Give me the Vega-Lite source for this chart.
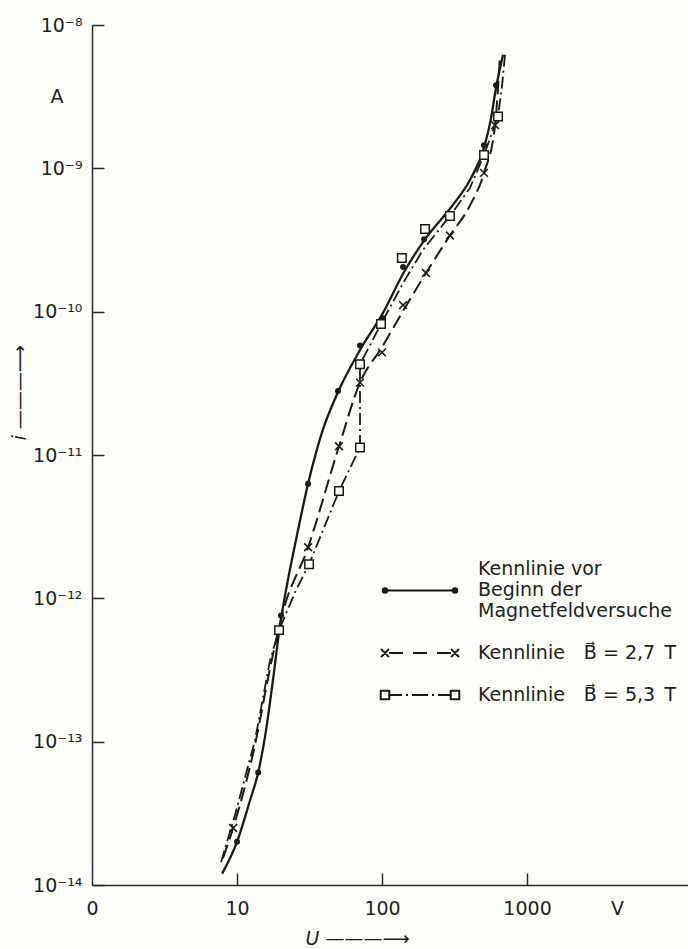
{
  "$schema": "https://vega.github.io/schema/vega-lite/v6.json",
  "width": 596,
  "height": 860,
  "autosize": {"type": "none"},
  "padding": {"left": 92, "top": 25, "right": 0, "bottom": 64},
  "background": "#fdfdf9",
  "config": {"view": {"stroke": null}, "font": "DejaVu Sans"},
  "datasets": {
    "curves": [
      {"Kurve": "vor", "n": 1, "U": 7.9, "i": 1.2e-14},
      {"Kurve": "vor", "n": 2, "U": 10, "i": 2.0e-14},
      {"Kurve": "vor", "n": 3, "U": 12.3, "i": 3.9e-14},
      {"Kurve": "vor", "n": 4, "U": 14, "i": 6.1e-14},
      {"Kurve": "vor", "n": 5, "U": 15.85, "i": 1.2e-13},
      {"Kurve": "vor", "n": 6, "U": 17.7, "i": 2.69e-13},
      {"Kurve": "vor", "n": 7, "U": 19.8, "i": 6.5e-13},
      {"Kurve": "vor", "n": 8, "U": 22.1, "i": 1.24e-12},
      {"Kurve": "vor", "n": 9, "U": 25.5, "i": 2.55e-12},
      {"Kurve": "vor", "n": 10, "U": 30.9, "i": 6.3e-12},
      {"Kurve": "vor", "n": 11, "U": 38.6, "i": 1.445e-11},
      {"Kurve": "vor", "n": 12, "U": 49.7, "i": 2.75e-11},
      {"Kurve": "vor", "n": 13, "U": 70.5, "i": 5.4e-11},
      {"Kurve": "vor", "n": 14, "U": 101.6, "i": 9.8e-11},
      {"Kurve": "vor", "n": 15, "U": 141.8, "i": 1.89e-10},
      {"Kurve": "vor", "n": 16, "U": 201, "i": 3.27e-10},
      {"Kurve": "vor", "n": 17, "U": 304, "i": 5.46e-10},
      {"Kurve": "vor", "n": 18, "U": 404, "i": 8.3e-10},
      {"Kurve": "vor", "n": 19, "U": 505, "i": 1.39e-9},
      {"Kurve": "vor", "n": 20, "U": 565, "i": 2.25e-9},
      {"Kurve": "vor", "n": 21, "U": 611, "i": 3.63e-9},
      {"Kurve": "vor", "n": 22, "U": 683, "i": 6.2e-9},
      {"Kurve": "2,7", "n": 1, "U": 8.0, "i": 1.54e-14},
      {"Kurve": "2,7", "n": 2, "U": 9.4, "i": 2.5e-14},
      {"Kurve": "2,7", "n": 3, "U": 13.3, "i": 9.5e-14},
      {"Kurve": "2,7", "n": 4, "U": 16.9, "i": 3.26e-13},
      {"Kurve": "2,7", "n": 5, "U": 20.4, "i": 7.6e-13},
      {"Kurve": "2,7", "n": 6, "U": 30.9, "i": 2.27e-12},
      {"Kurve": "2,7", "n": 7, "U": 50.5, "i": 1.15e-11},
      {"Kurve": "2,7", "n": 8, "U": 70.5, "i": 3.2e-11},
      {"Kurve": "2,7", "n": 9, "U": 100, "i": 5.66e-11},
      {"Kurve": "2,7", "n": 10, "U": 139.6, "i": 1.01e-10},
      {"Kurve": "2,7", "n": 11, "U": 201, "i": 1.86e-10},
      {"Kurve": "2,7", "n": 12, "U": 294, "i": 3.4e-10},
      {"Kurve": "2,7", "n": 13, "U": 404, "i": 5.5e-10},
      {"Kurve": "2,7", "n": 14, "U": 505, "i": 9.3e-10},
      {"Kurve": "2,7", "n": 15, "U": 602, "i": 2.0e-9},
      {"Kurve": "2,7", "n": 16, "U": 651, "i": 6.2e-9},
      {"Kurve": "5,3", "n": 1, "U": 7.76, "i": 1.44e-14},
      {"Kurve": "5,3", "n": 2, "U": 9.7, "i": 3.1e-14},
      {"Kurve": "5,3", "n": 3, "U": 13.3, "i": 1.02e-13},
      {"Kurve": "5,3", "n": 4, "U": 16.9, "i": 3.7e-13},
      {"Kurve": "5,3", "n": 5, "U": 19.5, "i": 6.0e-13},
      {"Kurve": "5,3", "n": 6, "U": 25.1, "i": 1.1e-12},
      {"Kurve": "5,3", "n": 7, "U": 31.4, "i": 1.73e-12},
      {"Kurve": "5,3", "n": 8, "U": 50.5, "i": 5.6e-12},
      {"Kurve": "5,3", "n": 9, "U": 70.5, "i": 1.13e-11},
      {"Kurve": "5,3", "n": 10, "U": 70.5, "i": 4.3e-11},
      {"Kurve": "5,3", "n": 11, "U": 98.4, "i": 8.2e-11},
      {"Kurve": "5,3", "n": 12, "U": 139.6, "i": 1.58e-10},
      {"Kurve": "5,3", "n": 13, "U": 191.6, "i": 2.7e-10},
      {"Kurve": "5,3", "n": 14, "U": 294, "i": 4.65e-10},
      {"Kurve": "5,3", "n": 15, "U": 404, "i": 7.3e-10},
      {"Kurve": "5,3", "n": 16, "U": 505, "i": 1.24e-9},
      {"Kurve": "5,3", "n": 17, "U": 583, "i": 1.85e-9},
      {"Kurve": "5,3", "n": 18, "U": 631, "i": 2.3e-9},
      {"Kurve": "5,3", "n": 19, "U": 673, "i": 3.8e-9},
      {"Kurve": "5,3", "n": 20, "U": 705, "i": 6.2e-9}
    ],
    "markers": [
      {"Kurve": "vor", "U": 10.0, "i": 2.0e-14},
      {"Kurve": "vor", "U": 14.0, "i": 6.1e-14},
      {"Kurve": "vor", "U": 20.1, "i": 7.6e-13},
      {"Kurve": "vor", "U": 30.9, "i": 6.3e-12},
      {"Kurve": "vor", "U": 49.7, "i": 2.8e-11},
      {"Kurve": "vor", "U": 70.5, "i": 5.8e-11},
      {"Kurve": "vor", "U": 101.6, "i": 9.0e-11},
      {"Kurve": "vor", "U": 139.6, "i": 2.05e-10},
      {"Kurve": "vor", "U": 195, "i": 3.2e-10},
      {"Kurve": "vor", "U": 505, "i": 1.45e-9},
      {"Kurve": "vor", "U": 611, "i": 3.8e-9},
      {"Kurve": "2,7", "U": 9.4, "i": 2.5e-14},
      {"Kurve": "2,7", "U": 30.9, "i": 2.27e-12},
      {"Kurve": "2,7", "U": 50.5, "i": 1.15e-11},
      {"Kurve": "2,7", "U": 70.5, "i": 3.2e-11},
      {"Kurve": "2,7", "U": 100, "i": 5.2e-11},
      {"Kurve": "2,7", "U": 139.6, "i": 1.11e-10},
      {"Kurve": "2,7", "U": 201, "i": 1.86e-10},
      {"Kurve": "2,7", "U": 294, "i": 3.4e-10},
      {"Kurve": "2,7", "U": 505, "i": 9.3e-10},
      {"Kurve": "2,7", "U": 602, "i": 2.0e-9},
      {"Kurve": "5,3", "U": 19.5, "i": 6.0e-13},
      {"Kurve": "5,3", "U": 31.4, "i": 1.73e-12},
      {"Kurve": "5,3", "U": 50.5, "i": 5.6e-12},
      {"Kurve": "5,3", "U": 70.5, "i": 1.13e-11},
      {"Kurve": "5,3", "U": 70.5, "i": 4.3e-11},
      {"Kurve": "5,3", "U": 98.4, "i": 8.2e-11},
      {"Kurve": "5,3", "U": 137, "i": 2.37e-10},
      {"Kurve": "5,3", "U": 198, "i": 3.77e-10},
      {"Kurve": "5,3", "U": 294, "i": 4.65e-10},
      {"Kurve": "5,3", "U": 505, "i": 1.24e-9},
      {"Kurve": "5,3", "U": 631, "i": 2.3e-9}
    ]
  },
  "encoding": {
    "x": {
      "field": "U",
      "type": "quantitative",
      "scale": {"type": "log", "domain": [1, 12882], "nice": false},
      "axis": {
        "values": [1, 10, 100, 1000, 4170],
        "labelExpr": "datum.value < 2 ? '0' : datum.value < 20 ? '10' : datum.value < 200 ? '100' : datum.value < 2000 ? '1000' : 'V'",
        "tickOpacity": {"condition": {"test": "datum.value < 2 || datum.value > 2000", "value": 0}, "value": 1},
        "tickSize": -12,
        "tickWidth": 1.5,
        "tickColor": "#2a2a2a",
        "domainColor": "#2a2a2a",
        "domainWidth": 1.5,
        "grid": false,
        "labelFont": "DejaVu Sans",
        "labelFontSize": 19,
        "labelColor": "#1e1e1e",
        "labelPadding": 26,
        "labelFlush": false,
        "labelOverlap": false,
        "title": "U  ———⟶",
        "titleFont": "DejaVu Sans",
        "titleFontSize": 19,
        "titleFontStyle": "italic",
        "titleFontWeight": "normal",
        "titleColor": "#1e1e1e",
        "titleAlign": "left",
        "titleAnchor": "start",
        "titleX": 213,
        "titleY": 59,
        "titleBaseline": "alphabetic"
      }
    },
    "y": {
      "field": "i",
      "type": "quantitative",
      "scale": {"type": "log", "domain": [1e-14, 1e-8], "nice": false},
      "axis": {
        "values": [1e-14, 1e-13, 1e-12, 1e-11, 1e-10, 1e-9, 3.1623e-9, 1e-8],
        "labelExpr": "datum.value > 5e-9 ? '10⁻⁸' : datum.value > 2e-9 ? 'A' : datum.value > 5e-10 ? '10⁻⁹' : datum.value > 5e-11 ? '10⁻¹⁰' : datum.value > 5e-12 ? '10⁻¹¹' : datum.value > 5e-13 ? '10⁻¹²' : datum.value > 5e-14 ? '10⁻¹³' : '10⁻¹⁴'",
        "tickOpacity": {"condition": {"test": "datum.value > 2e-9 && datum.value < 5e-9", "value": 0}, "value": 1},
        "labelPadding": {"condition": {"test": "datum.value > 2e-9 && datum.value < 5e-9", "value": 41}, "value": 22},
        "tickSize": -12,
        "tickWidth": 1.5,
        "tickColor": "#2a2a2a",
        "domainColor": "#2a2a2a",
        "domainWidth": 1.5,
        "grid": false,
        "labelFont": "DejaVu Sans",
        "labelFontSize": 19,
        "labelColor": "#1e1e1e",
        "labelFlush": false,
        "labelOverlap": false,
        "title": "i  ———⟶",
        "titleFont": "DejaVu Sans",
        "titleFontSize": 19,
        "titleFontStyle": "italic",
        "titleFontWeight": "normal",
        "titleColor": "#1e1e1e",
        "titleAngle": 270,
        "titleAlign": "left",
        "titleAnchor": "start",
        "titleX": -67,
        "titleY": 415,
        "titleBaseline": "alphabetic"
      }
    }
  },
  "layer": [
    {
      "data": {"name": "curves"},
      "transform": [{"filter": "datum.Kurve == 'vor'"}],
      "mark": {"type": "line", "color": "#1a1a1a", "strokeWidth": 2.3, "interpolate": "monotone"},
      "encoding": {"order": {"field": "n", "type": "quantitative"}}
    },
    {
      "data": {"name": "curves"},
      "transform": [{"filter": "datum.Kurve == '2,7'"}],
      "mark": {"type": "line", "color": "#1a1a1a", "strokeWidth": 2, "strokeDash": [14, 6], "interpolate": "monotone"},
      "encoding": {"order": {"field": "n", "type": "quantitative"}}
    },
    {
      "data": {"name": "curves"},
      "transform": [{"filter": "datum.Kurve == '5,3'"}],
      "mark": {"type": "line", "color": "#1a1a1a", "strokeWidth": 1.8, "strokeDash": [12, 4, 2, 4], "interpolate": "linear"},
      "encoding": {"order": {"field": "n", "type": "quantitative"}}
    },
    {
      "data": {"name": "markers"},
      "transform": [{"filter": "datum.Kurve == 'vor'"}],
      "mark": {"type": "point", "shape": "circle", "filled": true, "size": 36, "color": "#1a1a1a", "opacity": 1}
    },
    {
      "data": {"name": "markers"},
      "transform": [{"filter": "datum.Kurve == '2,7'"}],
      "mark": {"type": "point", "shape": "M-1,-1L1,1M-1,1L1,-1", "filled": false, "size": 60, "strokeWidth": 1.6, "color": "#1a1a1a", "opacity": 1}
    },
    {
      "data": {"name": "markers"},
      "transform": [{"filter": "datum.Kurve == '5,3'"}],
      "mark": {"type": "point", "shape": "square", "filled": true, "fill": "#fdfdf9", "stroke": "#1a1a1a", "strokeWidth": 1.5, "size": 72, "opacity": 1}
    },
    {
      "data": {"values": []},
      "mark": {"type": "point", "filled": false, "color": "#1a1a1a", "strokeWidth": 2, "opacity": 1},
      "encoding": {
        "size": {"value": 2500},
        "shape": {
          "field": "Kurve",
          "type": "nominal",
          "scale": {
            "domain": ["vor", "2,7", "5,3"],
            "range": [
              "M-1.36,0.86L1.36,0.86M-1.44,0.86a0.04,0.04 0 1,0 0.08,0a0.04,0.04 0 1,0 -0.08,0M-1.49,0.86a0.09,0.09 0 1,0 0.18,0a0.09,0.09 0 1,0 -0.18,0M1.36,0.86a0.04,0.04 0 1,0 0.08,0a0.04,0.04 0 1,0 -0.08,0M1.31,0.86a0.09,0.09 0 1,0 0.18,0a0.09,0.09 0 1,0 -0.18,0",
              "M-1.56,-0.16L-1.24,0.16M-1.56,0.16L-1.24,-0.16M1.24,-0.16L1.56,0.16M1.24,0.16L1.56,-0.16M-1.24,0L-0.68,0M-0.28,0L0.28,0M0.68,0L1.24,0",
              "M-1.57,-0.17h0.34v0.34h-0.34zM1.23,-0.17h0.34v0.34h-0.34zM-1.23,0L-0.72,0M-0.56,0L-0.48,0M-0.32,0L0.32,0M0.48,0L0.56,0M0.72,0L1.23,0"
            ]
          },
          "legend": {
            "orient": "none",
            "legendX": 291,
            "legendY": 518,
            "title": null,
            "padding": 0,
            "labelExpr": "datum.label == 'vor' ? ['Kennlinie vor', 'Beginn der', 'Magnetfeldversuche'] : 'Kennlinie\u2003B\u20d7 = ' + datum.label + '\u2002T'",
            "labelFont": "DejaVu Sans",
            "labelFontSize": 19,
            "labelColor": "#1e1e1e",
            "labelLimit": 0,
            "labelOffset": 32,
            "symbolOffset": 11,
            "symbolSize": 2500,
            "symbolStrokeWidth": 2,
            "symbolStrokeColor": "#1a1a1a",
            "symbolFillColor": "transparent",
            "symbolOpacity": 1,
            "rowPadding": 6
          }
        }
      }
    }
  ]
}
